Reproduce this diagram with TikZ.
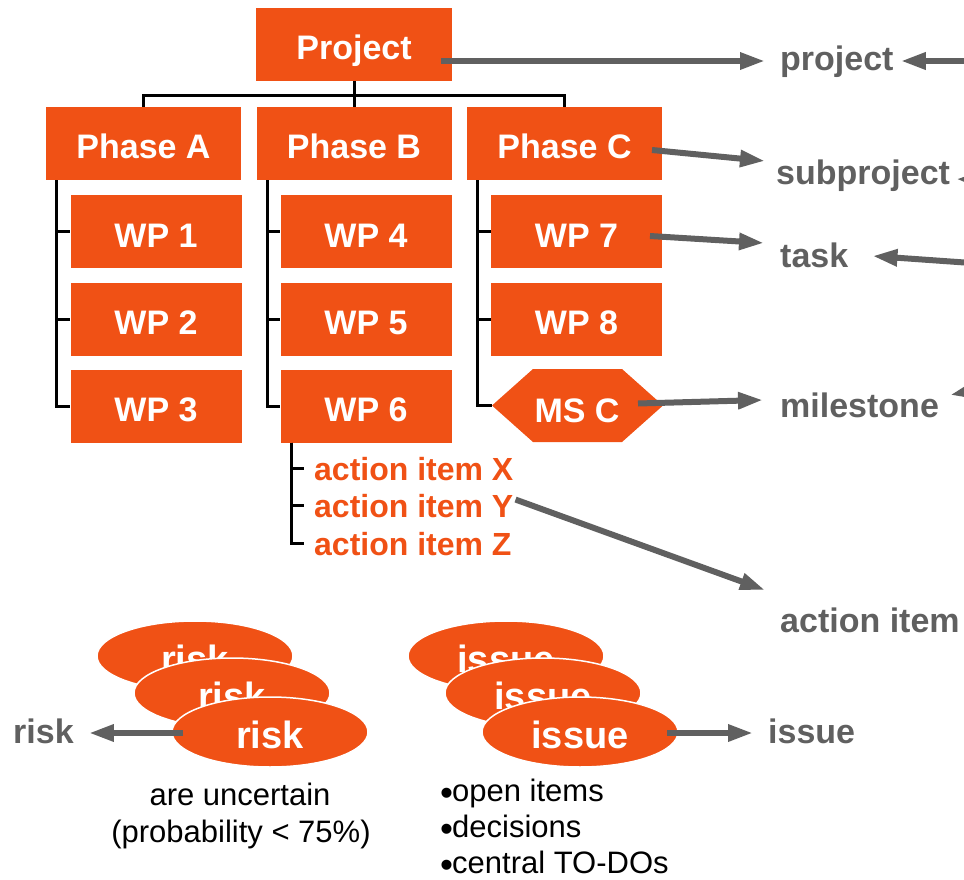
\documentclass[tikz,border=0pt]{standalone}
\usepackage{fontspec}
\setmainfont{Liberation Sans}
\usetikzlibrary{arrows.meta,calc,shapes.geometric}
\definecolor{orj}{RGB}{240,81,21}
\definecolor{gry}{RGB}{96,96,96}
\newcommand{\bigbul}{\makebox[12pt][l]{\smash{\raisebox{-3.5pt}{\fontsize{37}{37}\selectfont•}}}}
\begin{document}
\begin{tikzpicture}[x=1pt,y=-1pt,
  obox/.style={rectangle, fill=orj, text=white, font=\fontsize{34}{40}\selectfont\bfseries,
    minimum height=73pt, inner sep=0pt, text height=31pt, text depth=0pt},
  phasebox/.style={obox, minimum width=195pt},
  wpbox/.style={obox, minimum width=171pt},
  mstext/.style={text=white, font=\fontsize{34}{40}\selectfont\bfseries, inner sep=0pt, text height=33pt, text depth=0pt},
  tree/.style={draw=black, line width=3pt},
  act/.style={text=orj, font=\fontsize{32}{38}\selectfont\bfseries, inner sep=0pt, anchor=base west},
  glabel/.style={text=gry, font=\fontsize{34}{40}\selectfont\bfseries, inner sep=0pt, anchor=base west},
  garrow/.style={draw=gry, line width=6pt, -{Triangle[length=25pt,width=16pt]}},
  ell/.style={ellipse, fill=orj, draw=white, line width=1.5pt, minimum width=196pt, minimum height=70pt,
    inner sep=0pt, text=white, font=\fontsize{38}{44}\selectfont\bfseries, text height=32pt, text depth=0pt},
  plain/.style={text=black, font=\fontsize{31}{36}\selectfont, inner sep=0pt}
]
\useasboundingbox (0,0) rectangle (964,880);
\clip (0,0) rectangle (964,880);

% --- boxes
\node[obox, minimum width=196pt] (project) at (354,44.5) {Project};
\node[phasebox] (pa) at (143.5,143.5) {Phase A};
\node[phasebox] (pb) at (354,143.5) {Phase B};
\node[phasebox] (pc) at (564.5,143.5) {Phase C};

\node[wpbox] (wp1) at (156,231.5) {WP 1};
\node[wpbox] (wp2) at (156,319) {WP 2};
\node[wpbox] (wp3) at (156,406) {WP 3};
\node[wpbox] (wp4) at (366,231.5) {WP 4};
\node[wpbox] (wp5) at (366,319) {WP 5};
\node[wpbox] (wp6) at (366,406) {WP 6};
\node[wpbox] (wp7) at (576.5,231.5) {WP 7};
\node[wpbox] (wp8) at (576.5,319) {WP 8};

% milestone hexagon
\fill[orj] (492,405.5) -- (533,369) -- (622,369) -- (663,405.5) -- (622,442) -- (533,442) -- cycle;
\coordinate (mstip) at (492,405.5);
\node[mstext] (msc) at (577,405.5) {MS C};

% action items
\node[act] (ax) at (314,480) {action item X};
\node[act] (ay) at (314,517) {action item Y};
\node[act] (az) at (314,555) {action item Z};

% --- tree lines
\draw[tree] (project.south) -- (pb.north);
\draw[tree] (pa.north) -- ++(0,-11) -| (pc.north);
\draw[tree] ($(pa.south west)+(11,0)$) |- (wp1.west);
\draw[tree] ($(pa.south west)+(11,0)$) |- (wp2.west);
\draw[tree] ($(pa.south west)+(11,0)$) |- (wp3.west);
\draw[tree] ($(pb.south west)+(11,0)$) |- (wp4.west);
\draw[tree] ($(pb.south west)+(11,0)$) |- (wp5.west);
\draw[tree] ($(pb.south west)+(11,0)$) |- (wp6.west);
\draw[tree] ($(pc.south west)+(11,0)$) |- (wp7.west);
\draw[tree] ($(pc.south west)+(11,0)$) |- (wp8.west);
\draw[tree] ($(pc.south west)+(11,0)$) |- (mstip);
\draw[tree] ($(wp6.south west)+(11,0)$) |- ($(ax.west)+(-10,0)$);
\draw[tree] ($(wp6.south west)+(11,0)$) |- ($(ay.west)+(-10,0)$);
\draw[tree] ($(wp6.south west)+(11,0)$) |- ($(az.west)+(-10,0)$);

% --- ellipses
\node[ell] (r1) at (195,656) {risk};
\node[ell] (r2) at (232,693) {risk};
\node[ell] (r3) at (270,732) {risk};
\node[ell] (i1) at (506,656) {issue};
\node[ell] (i2) at (543,693) {issue};
\node[ell] (i3) at (580,732) {issue};

% --- gray labels
\node[glabel] (lproject) at (780,71) {project};
\node[glabel] (lsub) at (776,184) {subproject};
\node[glabel] (ltask) at (780,267) {task};
\node[glabel] (lmile) at (780,417) {milestone};
\node[glabel] (laction) at (780,632) {action item};
\node[glabel] (lrisk) at (13,743) {risk};
\node[glabel] (lissue) at (768,743) {issue};

% --- gray arrows
\draw[garrow] ($(project.center)+(87,16.5)$) -- ($(lproject.base west)+(-15,-10)$);
\draw[garrow] ($(pc.center)+(87.5,6.5)$) -- ($(lsub.base west)+(-11,-23)$);
\draw[garrow] ($(wp7.center)+(73.5,4.5)$) -- ($(ltask.base west)+(-16,-24)$);
\draw[garrow] ($(msc.center)+(61,-2)$) -- ($(lmile.base west)+(-17,-17)$);
\draw[garrow] ($(ay.east)+(2,-6)$) -- ($(laction.base west)+(-15,-42)$);
\draw[garrow] ($(r3.center)+(-87,1)$) -- ($(lrisk.base east)+(15,-10)$);
\draw[garrow] ($(i3.center)+(87,1)$) -- ($(lissue.base west)+(-15,-10)$);

% arrows coming in from beyond the right edge
\coordinate (o1) at (1000,61);
\coordinate (o2) at (1010,181);
\coordinate (o3) at (1000,265);
\coordinate (o4) at (1010,383);
\draw[garrow] (o1) -- ($(lproject.base east)+(7,-10)$);
\draw[garrow] (o2) -- ($(lsub.base east)+(6,-5)$);
\draw[garrow] (o3) -- ($(ltask.base east)+(24,-11)$);
\draw[garrow] (o4) -- ($(lmile.base east)+(11,-22)$);

% --- explanatory text
\node[plain, anchor=base] (unc) at (240,805) {are uncertain};
\node[plain, anchor=base] (prob) at (241,842) {(probability < 75\%)};
\node[plain, anchor=north west, align=left] (blist) at (440,779)
  {\bigbul open items\\ \bigbul decisions\\ \bigbul central TO-DOs};
\end{tikzpicture}
\end{document}
